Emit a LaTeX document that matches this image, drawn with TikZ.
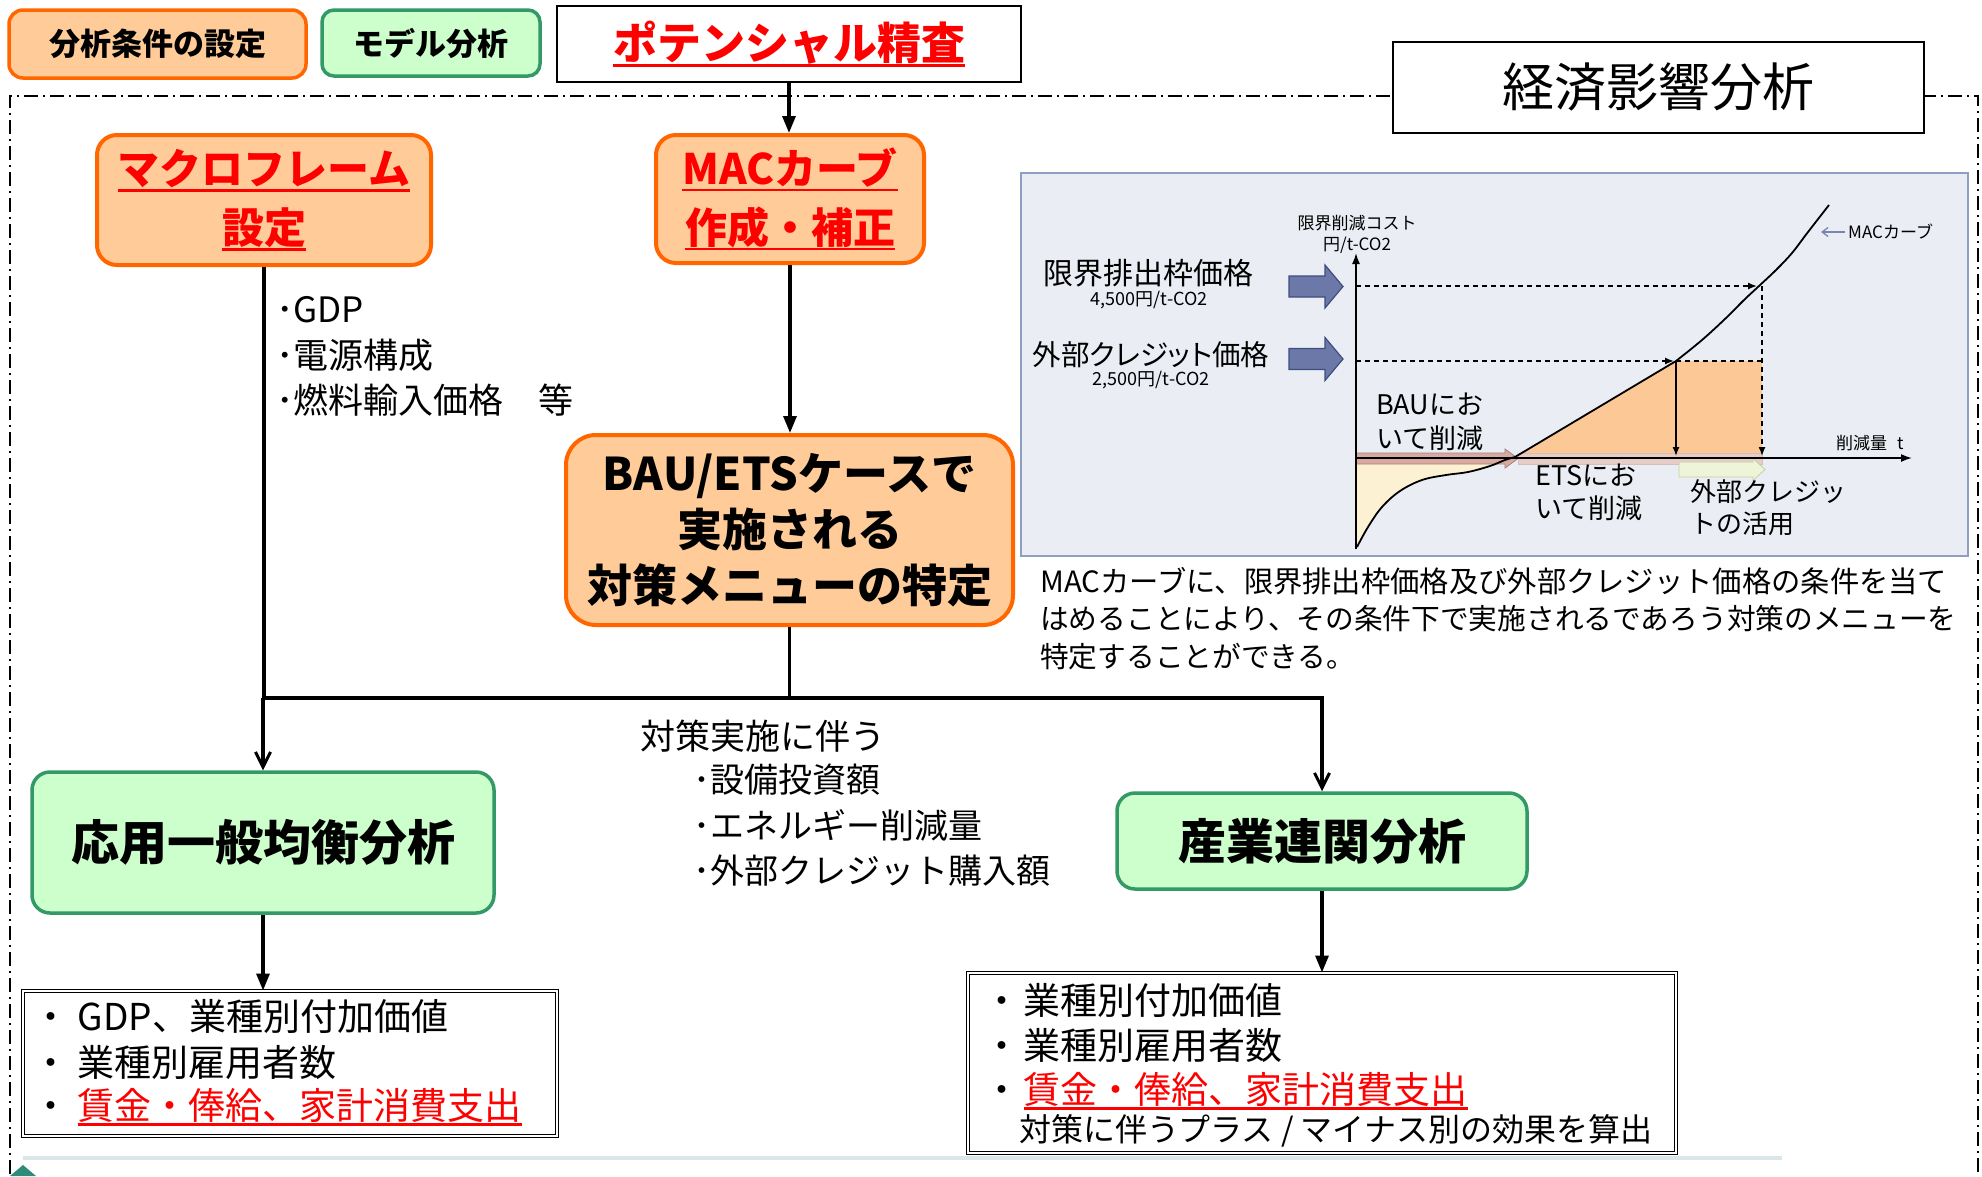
\documentclass[tikz,border=0pt]{standalone}
\usepackage{fontspec}
\setmainfont{Noto Sans CJK JP}
\newfontfamily\pjp{Noto Sans CJK JP}[RawFeature=+palt]
\usetikzlibrary{arrows.meta}
\definecolor{orB}{HTML}{FF6600}
\definecolor{orF}{HTML}{FFCC99}
\definecolor{grB}{HTML}{339966}
\definecolor{grF}{HTML}{CCFFCC}
\definecolor{panelF}{HTML}{EAEEF4}
\definecolor{panelB}{HTML}{8E9FC2}
\definecolor{creamF}{HTML}{FDF1D3}
\definecolor{chartOr}{HTML}{FBC896}
\definecolor{bandF}{HTML}{D9AAA2}
\definecolor{bandB}{HTML}{A88078}
\definecolor{gaF}{HTML}{EEF4D8}
\definecolor{gaB}{HTML}{C3D0A3}
\definecolor{blueA}{HTML}{6B78A8}
\definecolor{blueB}{HTML}{3F4C7F}
\definecolor{macArr}{HTML}{7A86B0}
\definecolor{botLine}{HTML}{DCE5EA}
\definecolor{teal}{HTML}{2E8B7A}
\newcommand\fs[2]{\fontsize{#1}{#2}\selectfont}
\newcommand\ulr[1]{\setbox0=\hbox{#1}\rlap{\vrule height -0.10em depth 0.16em width \wd0}\box0}
\begin{document}
\begin{tikzpicture}[x=1pt,y=-1pt,
  orbox/.style={draw=orB, line width=4pt, fill=orF, rounded corners=20pt, align=center, inner sep=0pt},
  grbox/.style={draw=grB, line width=3.5pt, fill=grF, rounded corners=18pt, align=center, inner sep=0pt},
  resbox/.style={draw, line width=1pt, double, double distance=2.5pt, inner sep=0pt},
  conn/.style={line width=3.2pt},
  tri/.style={-{Triangle[length=17pt,width=13pt]}},
  barb/.style={-{Straight Barb[length=15pt,width=15pt,line width=3pt]}},
  lbl/.style={inner sep=0pt, anchor=west},
  clbl/.style={inner sep=0pt, anchor=center},
  framedash/.style={line width=1.6pt, dash pattern=on 14pt off 5pt on 2pt off 5pt},
  dline/.style={line width=1.4pt, dash pattern=on 5pt off 4pt},
  ctip/.style={-{Latex[length=9pt,width=7pt]}}
]
\useasboundingbox (0,0) rectangle (1982,1176);
\fill[white] (0,0) rectangle (1982,1176);
\begin{scope}
\clip (0,0) rectangle (1982,1176);
\draw[framedash] (10,1200) -- (10,96) -- (1978,96) -- (1978,1200);
\end{scope}

% bottom decoration
\draw[botLine, line width=4pt] (23,1158) -- (1782,1158);
\fill[teal] (10,1176) -- (23,1165) -- (36,1176) -- cycle;

% legend and headers
\node[orbox, line width=3.5pt, rounded corners=14pt, minimum width=297pt, minimum height=68pt, font=\bfseries\fs{31}{36}] (leg1) at (157.5,44) {分析条件の設定};
\node[grbox, rounded corners=12pt, minimum width=218pt, minimum height=66pt, font=\bfseries\fs{31}{36}] (leg2) at (431,43) {モデル分析};
\node[draw, line width=1.5pt, fill=white, minimum width=464pt, minimum height=76pt, text=red, font=\bfseries\fs{44}{50}, inner sep=0pt] (pot) at (789,44) {\raisebox{2pt}{\ulr{ポテンシャル精査}}};
\node[draw, line width=1.5pt, fill=white, minimum width=531pt, minimum height=91pt, font=\fs{52}{60}, inner sep=0pt] (keizai) at (1658.5,87.5) {\raisebox{6pt}{経済影響分析}};

% main boxes
\node[orbox, minimum width=334pt, minimum height=130pt, text=red, font=\bfseries\fs{42}{59}] (macro) at (264,200) {\ulr{マクロフレーム}\\\ulr{設定}};
\node[orbox, minimum width=268pt, minimum height=128pt, text=red, font=\bfseries\fs{42}{59}] (mac) at (790,199) {\ulr{MACカーブ}\\\ulr{作成・補正}};
\node[orbox, rounded corners=30pt, minimum width=447pt, minimum height=190pt, font=\bfseries\fs{45}{56}] (bau) at (789.5,530) {BAU/ETSケースで\\実施される\\対策メニューの特定};
\node[grbox, minimum width=462pt, minimum height=141pt, font=\bfseries\fs{48}{56}] (cge) at (263,842.5) {応用一般均衡分析};
\node[grbox, minimum width=410pt, minimum height=96pt, font=\bfseries\fs{48}{56}] (io) at (1322,841) {産業連関分析};
\node[resbox, minimum width=534pt, minimum height=145pt] (resL) at (290,1063.5) {};
\node[resbox, minimum width=708pt, minimum height=180pt] (resR) at (1322,1063) {};

% connectors
\coordinate (jl) at (263,698);
\coordinate (jr) at (1322,698);
\draw[conn,tri] (pot.south) -- (pot.south |- mac.north);
\draw[conn,tri] (mac.south) -- (mac.south |- bau.north);
\draw[conn] (macro.south) -- (macro.south |- jl);
\draw[conn,barb] (jl) -- (jl |- cge.north);
\draw[conn] (bau.south) -- (bau.south |- jl);
\draw[conn,barb] (jl) -- (jr) -- (io.north);
\draw[conn,tri] (cge.south) -- (cge.south |- resL.north);
\draw[conn,tri] (io.south) -- (resR.north);

% list texts
\node[lbl, font=\fs{35}{40}] (m1) at (276,310) {･GDP};
\node[lbl, font=\fs{35}{40}] (m2) at (276,355) {･電源構成};
\node[lbl, font=\fs{35}{40}] (m3) at (276,400) {･燃料輸入価格　等};

\node[lbl, font=\fs{35}{40}] (t0) at (640,736) {対策実施に伴う};
\node[lbl, font=\fs{34}{40}] (t1) at (693,780) {･設備投資額};
\node[lbl, font=\fs{34}{40}] (t2) at (693,825) {･エネルギー削減量};
\node[lbl, font=\fs{34}{40}] (t3) at (693,871) {･外部クレジット購入額};

\node[lbl, font=\fs{37}{42}] (l1) at (32.5,1016) {・\kern8pt GDP、業種別付加価値};
\node[lbl, font=\fs{37}{42}] (l2) at (32.5,1062) {・\kern8pt 業種別雇用者数};
\node[lbl, font=\fs{37}{42}] (l3) at (32.5,1107) {・\kern8pt\textcolor{red}{\ulr{賃金・俸給、家計消費支出}}};

\node[lbl, font=\fs{37}{42}] (r1) at (983.5,1000) {・\kern3pt 業種別付加価値};
\node[lbl, font=\fs{37}{42}] (r2) at (983.5,1045) {・\kern3pt 業種別雇用者数};
\node[lbl, font=\fs{37}{42}] (r3) at (983.5,1091) {・\kern3pt\textcolor{red}{\ulr{賃金・俸給、家計消費支出}}};
\node[lbl, font=\fs{32}{38}] (r4) at (1019,1131) {対策に伴うプラス / マイナス別の効果を算出};

% caption
\node[lbl, font=\fs{29.3}{36}] (c1) at (1040,581) {MACカーブに、限界排出枠価格及び外部クレジット価格の条件を当て};
\node[lbl, font=\fs{28.7}{36}] (c2) at (1040,619) {はめることにより、その条件下で実施されるであろう対策のメニューを};
\node[lbl, font=\fs{28.7}{36}] (c3) at (1040,657) {特定することができる。};

% chart panel
\filldraw[fill=panelF, draw=panelB, line width=1.5pt] (1021,173) rectangle (1968,556);
\fill[creamF] (1356,458) -- plot[smooth, tension=0.6] coordinates {(1357,547) (1368,527) (1382,507) (1400,491) (1422,480) (1446,475) (1468,472) (1490,466) (1505,460) (1515,457)} -- cycle;
\fill[chartOr] (1515,458) -- (1676,361) -- (1762,361) -- (1762,458) -- cycle;
\filldraw[fill=bandF, draw=bandB, line width=0.8pt] (1356,453) -- (1505,453) -- (1505,449) -- (1518,458.5) -- (1505,468) -- (1505,464) -- (1356,464) -- cycle;
\filldraw[fill=bandF!60, draw=bandB!50, line width=0.8pt] (1518,453) rectangle (1762,464);
\filldraw[fill=gaF, draw=gaB, line width=0.8pt] (1679,462) -- (1753,462) -- (1753,458.5) -- (1765,469.5) -- (1753,480.5) -- (1753,477) -- (1679,477) -- cycle;

\draw[line width=1.6pt, -{Latex[length=11pt,width=8pt]}] (1356,549) -- (1356,253);
\draw[line width=1.6pt, -{Latex[length=11pt,width=8pt]}] (1356,458) -- (1912,458);

\draw[dline, ctip] (1356,286) -- (1757,286);
\draw[dline, ctip] (1356,361) -- (1674,361);
\draw[dline] (1676,361) -- (1762,361);
\draw[dline, ctip] (1762,286) -- (1762,456);
\draw[line width=1.4pt, ctip] (1676,361) -- (1676,456);

\draw[line width=1.8pt] plot[smooth, tension=0.6] coordinates {(1357,547) (1368,527) (1382,507) (1400,491) (1422,480) (1446,475) (1468,472) (1490,466) (1505,460) (1515,457)} -- (1676,361) -- plot[smooth, tension=0.6] coordinates {(1676,361) (1702,340) (1726,318) (1744,300) (1759,286) (1776,270) (1792,253) (1808,232) (1829,205)};

\filldraw[fill=blueA, draw=blueB, line width=1.2pt] (1289,276) -- (1325,276) -- (1325,265) -- (1343,286.5) -- (1325,308) -- (1325,297) -- (1289,297) -- cycle;
\filldraw[fill=blueA, draw=blueB, line width=1.2pt] (1289,348.5) -- (1325,348.5) -- (1325,337.5) -- (1343,359) -- (1325,380.5) -- (1325,369.5) -- (1289,369.5) -- cycle;

\node[clbl, font=\fs{17}{20}] (ylab1) at (1357,223) {限界削減コスト};
\node[clbl, font=\fs{17}{20}] (ylab2) at (1357,245) {円/t-CO2};
\node[lbl, font=\fs{17}{20}] (xlab) at (1836,443) {削減量\kern10pt t};
\draw[macArr, line width=1.3pt, -{Straight Barb[length=6pt,width=9pt]}] (1845,232) -- (1821,232);
\node[lbl, font=\fs{17}{20}] (maclab) at (1848,232) {MACカーブ};

\node[clbl, font=\pjp\fs{30}{36}] (p1) at (1148,273) {限界排出枠価格};
\node[clbl, font=\fs{18}{22}] (p1v) at (1149,300) {4,500円/t-CO2};
\node[clbl, font=\pjp\fs{28.5}{36}] (p2) at (1151,355) {外部クレジット価格};
\node[clbl, font=\fs{18}{22}] (p2v) at (1151,380) {2,500円/t-CO2};

\node[lbl, font=\fs{27}{34}] (b1) at (1376,404) {BAUにお};
\node[lbl, font=\fs{27}{34}] (b2) at (1376,438) {いて削減};
\node[lbl, font=\fs{27}{34}] (e1) at (1535,475) {ETSにお};
\node[lbl, font=\fs{27}{34}] (e2) at (1535,508) {いて削減};
\node[lbl, font=\fs{26}{34}] (g1) at (1690,492) {外部クレジッ};
\node[lbl, font=\fs{26}{34}] (g2) at (1690,524) {トの活用};
\end{tikzpicture}
\end{document}
